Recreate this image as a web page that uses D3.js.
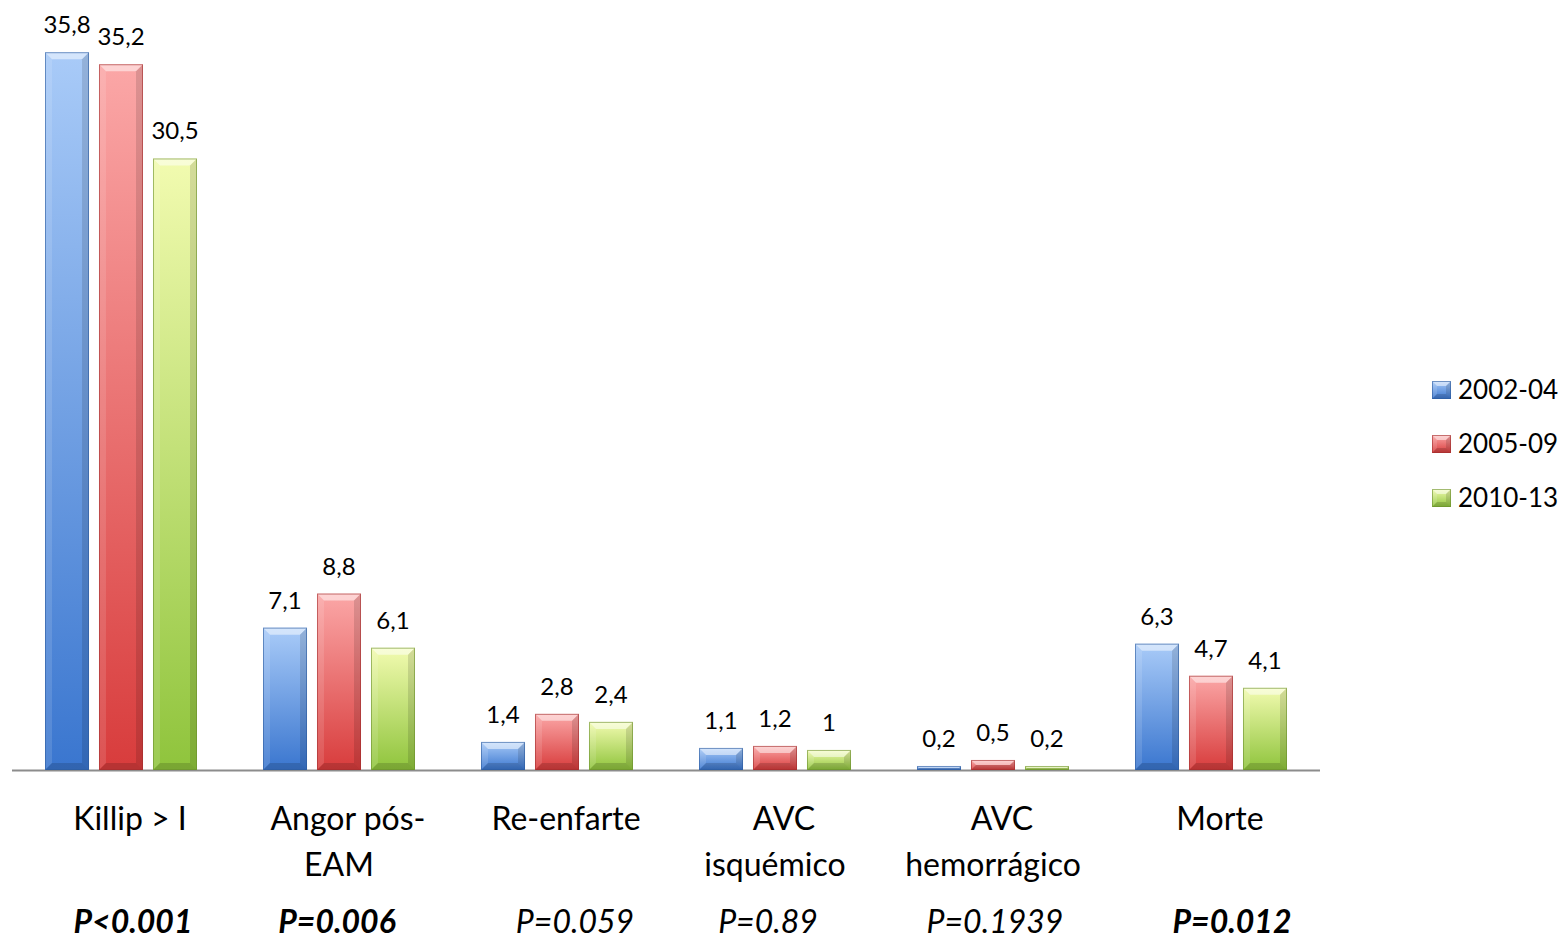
<!DOCTYPE html>
<html><head><meta charset="utf-8">
<script src="https://cdnjs.cloudflare.com/ajax/libs/d3/7.8.5/d3.min.js"></script>
<style>body{margin:0;background:#fff;} svg{display:block;font-family:Lato,"Noto Sans",sans-serif;}</style>
</head><body>
<svg id="c" width="1568" height="939"></svg>
<script>
const categories = [["Killip > I"], ["Angor pós-","EAM"], ["Re-enfarte"], ["AVC","isquémico"], ["AVC","hemorrágico"], ["Morte"]];
const series = ["2002-04","2005-09","2010-13"];
const values2002 = [35.8, 7.1, 1.4, 1.1, 0.2, 6.3];
const values2005 = [35.2, 8.8, 2.8, 1.2, 0.5, 4.7];
const values2010 = [30.5, 6.1, 2.4, 1.0, 0.2, 4.1];
const pValues = ["P<0.001","P=0.006","P=0.059","P=0.89","P=0.1939","P=0.012"];
const pBold = [true, true, false, false, false, true];

const allValues = [values2002, values2005, values2010];
const colors = [
  {top:"#a9cbf8", bot:"#3a76cf", edge:"#2d5c9e"},
  {top:"#fba7a7", bot:"#d83c3c", edge:"#a12d2d"},
  {top:"#f2fbb0", bot:"#8fc43c", edge:"#6b8f2d"}
];
const pOffset = [12, -2, 18, -7, 2, 21];

const svg = d3.select("#c");
const catKeys = categories.map((c,i)=>i);
const x0 = d3.scaleBand().domain(catKeys).range([12, 1320]).padding(0);
const x1 = d3.scaleBand().domain(series).range([-76, 76]).paddingInner(0.185).paddingOuter(0);
const y = d3.scaleLinear().domain([0, 40]).range([770, -32]);

const defs = svg.append("defs");
series.forEach((s,i)=>{
  const g = defs.append("linearGradient").attr("id","g"+i).attr("x1",0).attr("y1",0).attr("x2",0).attr("y2",1);
  g.append("stop").attr("offset","0%").attr("stop-color",colors[i].top);
  g.append("stop").attr("offset","100%").attr("stop-color",colors[i].bot);
});

// axis line
svg.append("line").attr("x1",12).attr("x2",1320).attr("y1",y(0)+0.5).attr("y2",y(0)+0.5)
  .attr("stroke","#8c8c8c").attr("stroke-width",2);

const data = [];
catKeys.forEach(ci=>series.forEach((s,si)=>data.push({ci, si, s, v: allValues[si][ci]})));

function bevelBox(g, xl, yt, w, h, si, bmax){
  const yb = yt + h;
  const b = Math.min(bmax, h/2);
  g.append("rect").attr("x",xl).attr("y",yt).attr("width",w).attr("height",h)
    .attr("fill",`url(#g${si})`);
  g.append("polygon").attr("points",[[xl,yt],[xl+w,yt],[xl+w-b,yt+b],[xl+b,yt+b]].join(" "))
    .attr("fill","#fff").attr("opacity",0.5);
  g.append("polygon").attr("points",[[xl,yt],[xl+b,yt+b],[xl+b,yb-b],[xl,yb]].join(" "))
    .attr("fill","#fff").attr("opacity",0.12);
  g.append("polygon").attr("points",[[xl+w,yt],[xl+w-b,yt+b],[xl+w-b,yb-b],[xl+w,yb]].join(" "))
    .attr("fill","#000").attr("opacity",0.12);
  g.append("polygon").attr("points",[[xl,yb],[xl+b,yb-b],[xl+w-b,yb-b],[xl+w,yb]].join(" "))
    .attr("fill","#000").attr("opacity",0.15);
  g.append("rect").attr("x",xl+0.5).attr("y",yt+0.5).attr("width",w-1).attr("height",Math.max(0,h-1))
    .attr("fill","none").attr("stroke",colors[si].edge).attr("stroke-opacity",0.6).attr("stroke-width",1);
}

const bars = svg.append("g").selectAll("g").data(data).join("g");
bars.each(function(d){
  const g = d3.select(this);
  const xl = x0(d.ci) + x0.bandwidth()/2 + x1(d.s);
  const w = x1.bandwidth();
  const yt = y(d.v), yb = y(0);
  bevelBox(g, xl, yt, w, yb-yt, d.si, 7);
  g.append("text").attr("x", xl + w/2).attr("y", yt - 19)
    .attr("text-anchor","middle").attr("font-size",24).attr("fill","#000")
    .text(String(d.v).replace(".",","));
});

// category labels
const cat = svg.append("g").selectAll("text").data(categories).join("text")
  .attr("text-anchor","middle").attr("font-size",32).attr("fill","#000");
cat.each(function(lines, i){
  const t = d3.select(this);
  lines.forEach((ln, j)=>{
    t.append("tspan").attr("x", x0(i)+x0.bandwidth()/2 + (j===0?9:0)).attr("y", 830 + j*46).text(ln);
  });
});

// p-values
svg.append("g").selectAll("text").data(pValues).join("text")
  .attr("x",(d,i)=>x0(i)+x0.bandwidth()/2 + pOffset[i]).attr("y",933)
  .attr("text-anchor","middle").attr("font-size",32).attr("font-style","italic")
  .attr("font-weight",(d,i)=>pBold[i]?"bold":"normal").text(d=>d);

// legend
const lg = svg.append("g").selectAll("g").data(series).join("g")
  .attr("transform",(d,i)=>`translate(1432,${381+i*54})`);
lg.each(function(d,i){ bevelBox(d3.select(this), 0, 0, 19, 18, i, 5); });
lg.append("text").attr("x",26).attr("y",18).attr("font-size",26).text(d=>d);
</script>
</body></html>
